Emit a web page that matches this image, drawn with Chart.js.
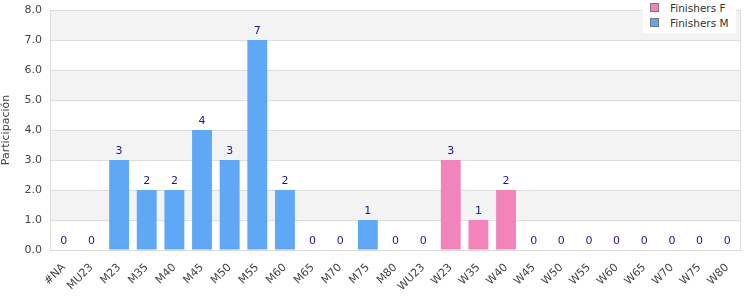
<!DOCTYPE html>
<html><head><meta charset="utf-8">
<script src="https://cdn.jsdelivr.net/npm/chart.js@4/dist/chart.umd.min.js"></script>
<style>
html,body{margin:0;padding:0;background:#fff;}
#wrap{position:relative;width:750px;height:300px;}
#legend{position:absolute;left:643px;top:0;width:93px;height:33px;background:#fff;font-family:"DejaVu Sans",sans-serif;font-size:10.5px;color:#333;}
.li{position:absolute;left:7px;height:14px;line-height:14px;white-space:nowrap;}
.sw{display:inline-block;width:7px;height:7px;border:1px solid #777;margin-right:11px;vertical-align:0px;}
</style></head><body>
<div id="wrap"><canvas id="c" width="750" height="300"></canvas>
<div id="legend">
<div class="li" style="top:1px"><span class="sw" style="background:#f383bb"></span>Finishers F</div>
<div class="li" style="top:16px"><span class="sw" style="background:#5fa8f5"></span>Finishers M</div>
</div></div>
<script>
const categories = ["#NA","MU23","M23","M35","M40","M45","M50","M55","M60","M65","M70","M75","M80","WU23","W23","W35","W40","W45","W50","W55","W60","W65","W70","W75","W80"];
const finishersF = [0,0,0,0,0,0,0,0,0,0,0,0,0,0,3,1,2,0,0,0,0,0,0,0,0];
const finishersM = [0,0,3,2,2,4,3,7,2,0,0,1,0,0,0,0,0,0,0,0,0,0,0,0,0];
const yTicks = [0,1,2,3,4,5,6,7,8];

const bands = {
  id:'bands',
  beforeDraw(chart){
    const {ctx, chartArea:a, scales:{y}} = chart;
    ctx.save();
    for(let v=0; v<8; v++){
      if(v%2===1){
        ctx.fillStyle='#f3f3f3';
        const t=y.getPixelForValue(v+1), b=y.getPixelForValue(v);
        ctx.fillRect(a.left,t,a.right-a.left,b-t);
      }
    }
    ctx.restore();
  },
  afterDatasetsDraw(chart){
    const {ctx, chartArea:a, scales:{x,y}} = chart;
    ctx.save();
    ctx.strokeStyle='#dcdcdc'; ctx.lineWidth=1;
    ctx.strokeRect(a.left+0.5,a.top+0.5,a.right-a.left-1,a.bottom-a.top);
    ctx.fillStyle='#1a1a8c';
    ctx.font='11px "DejaVu Sans"';
    ctx.textAlign='center'; ctx.textBaseline='bottom';
    categories.forEach((c,i)=>{
      const tot=finishersF[i]+finishersM[i];
      ctx.fillText(String(tot), x.getPixelForValue(i), y.getPixelForValue(tot)-3);
    });
    ctx.restore();
  }
};

new Chart(document.getElementById('c'),{
  type:'bar',
  data:{labels:categories,datasets:[
    {label:'Finishers F',data:finishersF,backgroundColor:'#f383bb'},
    {label:'Finishers M',data:finishersM,backgroundColor:'#5fa8f5'}
  ]},
  options:{
    responsive:false,animation:false,
    layout:{padding:{top:10,right:9,left:0,bottom:0}},
    plugins:{legend:{display:false},tooltip:{enabled:false}},
    scales:{
      x:{stacked:true,
        grid:{display:false},
        border:{color:'#dcdcdc'},
        ticks:{color:'#444',font:{family:'DejaVu Sans',size:11},minRotation:45,maxRotation:45,autoSkip:false},
        afterFit(s){s.height=50;s.paddingLeft=0;s.paddingRight=0;}
      },
      y:{stacked:true,min:0,max:8,
        grid:{color:'#dcdcdc',drawTicks:false},
        border:{color:'#dcdcdc'},
        title:{display:true,text:'Participación',color:'#444',font:{family:'DejaVu Sans',size:11},padding:{top:0,bottom:4}},
        ticks:{stepSize:1,padding:8,color:'#444',font:{family:'DejaVu Sans',size:11},callback:v=>yTicks.includes(v)?v.toFixed(1):''},
        afterFit(s){s.width=50;s.paddingTop=0;s.paddingBottom=0;}
      }
    }
  },
  plugins:[bands]
});
</script></body></html>
